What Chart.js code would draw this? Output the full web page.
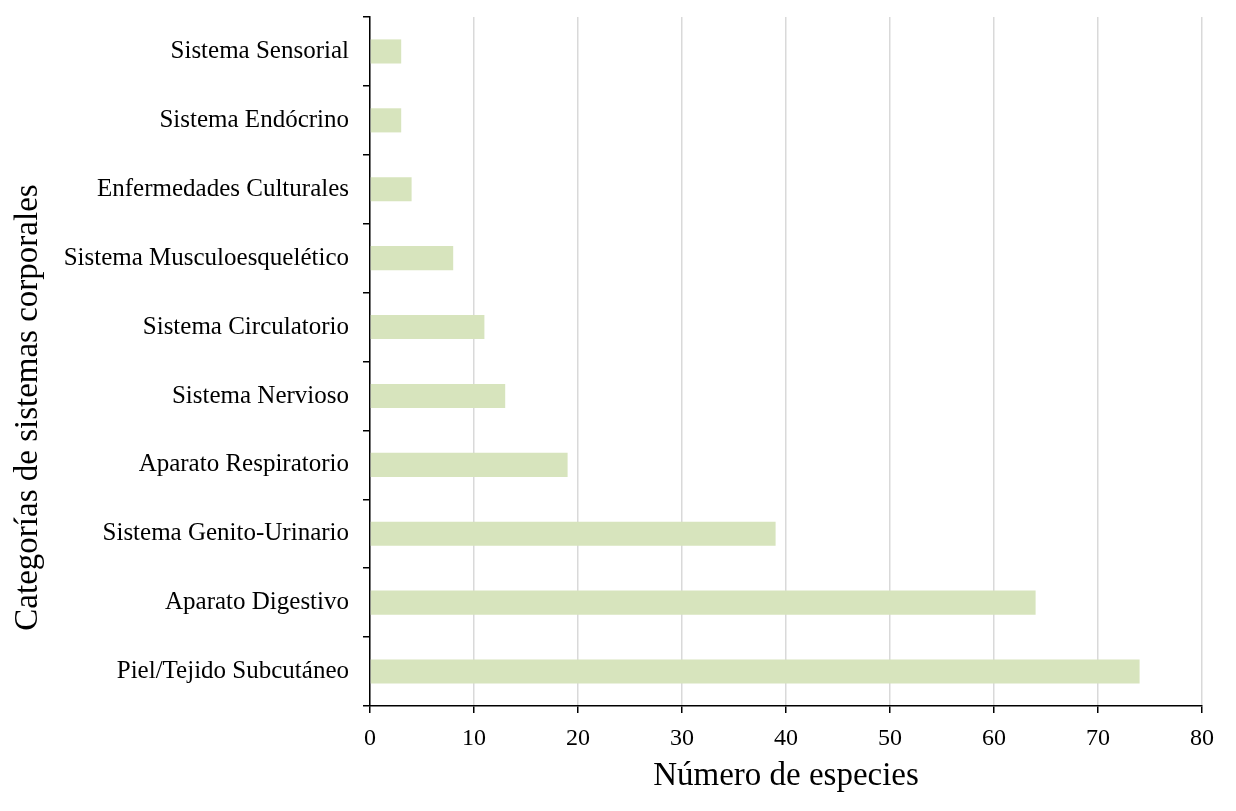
<!DOCTYPE html>
<html>
<head>
<meta charset="utf-8">
<script src="https://cdn.jsdelivr.net/npm/chart.js@4"></script>
<style>
html,body{margin:0;padding:0;background:#fff;}
#wrap{width:1236px;height:811px;}
</style>
</head>
<body>
<div id="wrap"><canvas id="c" width="1236" height="811"></canvas></div>
<script>
const categories = [
  "Sistema Sensorial",
  "Sistema Endócrino",
  "Enfermedades Culturales",
  "Sistema Musculoesquelético",
  "Sistema Circulatorio",
  "Sistema Nervioso",
  "Aparato Respiratorio",
  "Sistema Genito-Urinario",
  "Aparato Digestivo",
  "Piel/Tejido Subcutáneo"
];
const especies = [3, 3, 4, 8, 11, 13, 19, 39, 64, 74];
const xTitle = "Número de especies";
const yTitle = "Categorías de sistemas corporales";

const FONT = "'Liberation Serif', 'Times New Roman', serif";

const yTitlePlugin = {
  id: 'yTitlePlugin',
  afterDraw(chart) {
    const ctx = chart.ctx;
    ctx.save();
    ctx.translate(37, 407.5);
    ctx.rotate(-Math.PI / 2);
    ctx.font = "33px " + FONT;
    ctx.fillStyle = '#000';
    ctx.textAlign = 'center';
    ctx.textBaseline = 'alphabetic';
    ctx.fillText(yTitle, 0, 0);
    ctx.restore();
  }
};

new Chart(document.getElementById('c'), {
  type: 'bar',
  data: {
    labels: categories,
    datasets: [{
      data: especies,
      backgroundColor: '#d7e4bd',
      borderWidth: 0,
      barPercentage: 0.35,
      categoryPercentage: 1.0
    }]
  },
  plugins: [yTitlePlugin],
  options: {
    indexAxis: 'y',
    responsive: false,
    animation: false,
    layout: { padding: { left: 0, right: 34, top: 17, bottom: 0 } },
    plugins: { legend: { display: false }, tooltip: { enabled: false } },
    scales: {
      x: {
        min: 0, max: 80,
        ticks: { stepSize: 10, color: '#000', font: { family: FONT, size: 24 }, padding: 11 },
        grid: { color: '#d9d9d9', lineWidth: 1.5, tickColor: '#000', tickLength: 7, drawTicks: true },
        border: { color: '#000', width: 1.5 },
        title: { display: true, text: xTitle, color: '#000', font: { family: FONT, size: 33 }, padding: { top: 4, bottom: 15 } },
        afterFit: (s) => { s.height = 105; }
      },
      y: {
        ticks: { color: '#000', font: { family: FONT, size: 25 }, padding: 14 },
        grid: { drawOnChartArea: false, color: '#000', tickLength: 7, lineWidth: 1.5 },
        border: { color: '#000', width: 1.5 },
        title: { display: false },
        afterFit: (s) => { s.width = 370; s.paddingTop = 0; s.paddingBottom = 0; }
      }
    }
  }
});
</script>
</body>
</html>
